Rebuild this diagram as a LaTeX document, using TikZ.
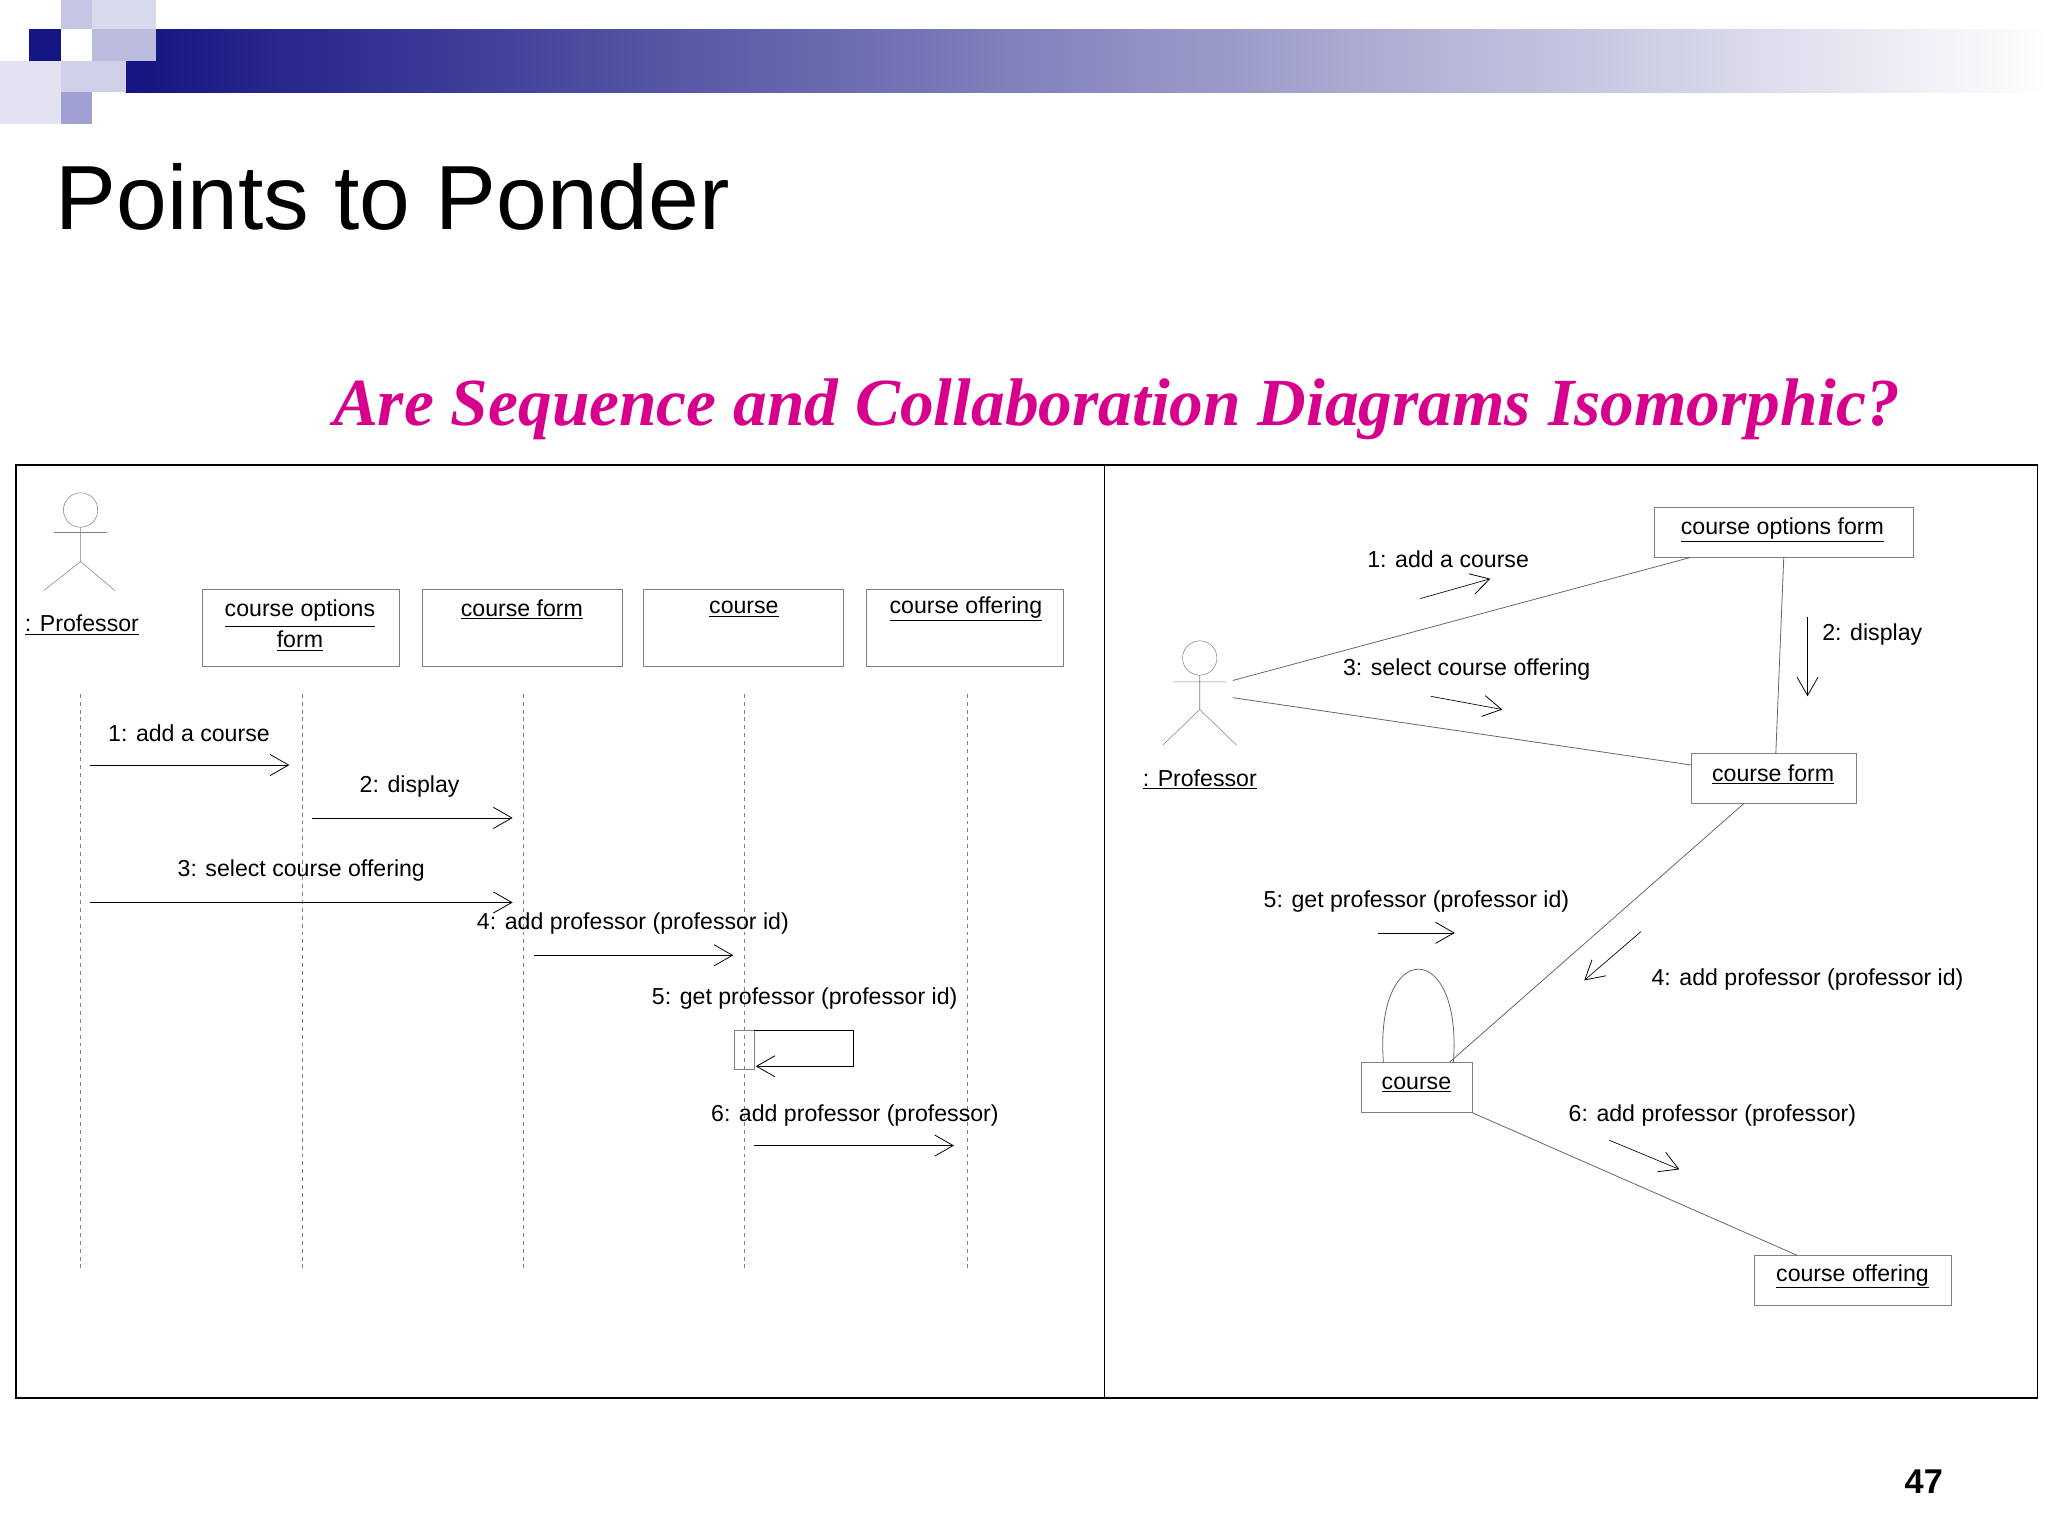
\documentclass[tikz,border=0pt]{standalone}
\usepackage{fontspec}
\setmainfont{Liberation Sans}
\newfontfamily\serifit{Liberation Serif}
\usetikzlibrary{arrows.meta}
\definecolor{navy}{RGB}{20,20,130}
\definecolor{lav}{RGB}{160,160,210}
\definecolor{mag}{RGB}{214,0,140}
\begin{document}
\begin{tikzpicture}[x=1pt,y=-1pt,
  lbl/.style={font=\fontsize{17.5}{19}\selectfont,inner sep=0pt},
  obj/.style={draw=gray,line width=0.6pt},
  msg/.style={line width=0.5pt,-{Straight Barb[length=14pt,width=16pt,line width=0.6pt]}},
  life/.style={gray,dashed,line width=0.5pt},
  lnk/.style={gray!80!black,line width=0.6pt}]
\useasboundingbox (0,0) rectangle (1550,1162.5);
% header
\shade[left color=navy,right color=white] (95,22) rectangle (1550,70);
\fill[navy] (22,22) rectangle (46,46);
\fill[lav!60] (46,0) rectangle (70,22);
\fill[lav!40] (70,0) rectangle (118,22);
\fill[lav!70] (70,22) rectangle (118,46);
\fill[lav!50] (46,46) rectangle (95,70);
\fill[lav] (46,70) rectangle (70,94);
\fill[lav!30] (0,46) rectangle (46,94);
\node[anchor=base west,inner sep=0pt,font=\fontsize{69}{76}\selectfont] (title) at (42,174) {Points to Ponder};
\node[anchor=base,inner sep=0pt,text=mag,font=\serifit\bfseries\itshape\fontsize{51}{60}\selectfont] (sub) at (845,322) {Are Sequence and Collaboration Diagrams Isomorphic?};
\draw[line width=1.2pt] (12,352) rectangle (1542,1058);
\draw[line width=1.2pt] (836,352) -- (836,1058);
% left actor
\draw[gray] (61,386) circle (13);
\draw[gray] (61,399) -- (61,425) (41,403) -- (81,403) (61,425) -- (33,447) (61,425) -- (87,447);
\node[lbl] (pl) at (62,473) {\underline{: Professor}};
% lifeline boxes
\draw[obj] (153,446) rectangle (302,504);
\node[lbl,align=center] (b1) at (227,473) {\underline{course options\strut}\\[2pt]\underline{form}};
\draw[obj] (320,446) rectangle (471,504);
\node[lbl] (b2) at (395,461) {\underline{course form}};
\draw[obj] (487,446) rectangle (638,504);
\node[lbl] (b3) at (563,461) {\underline{course}};
\draw[obj] (656,446) rectangle (805,504);
\node[lbl] (b4) at (731,461) {\underline{course offering}};
\foreach \x in {61,229,396,563,732} \draw[life] (\x,525) -- (\x,962);
\draw[msg] (68,579) -- (219,579); \node[lbl] (m1) at (143,555) {1: add a course};
\draw[msg] (236,619) -- (388,619); \node[lbl] (m2) at (310,595) {2: display};
\draw[msg] (68,683) -- (388,683); \node[lbl] (m3) at (228,659) {3: select course offering};
\draw[msg] (404,723) -- (555,723); \node[lbl] (m4) at (479,699) {4: add professor (professor id)};
\draw[obj] (556,780) rectangle (571,809);
\draw[msg] (571,780) -- (646,780) -- (646,807) -- (572,807);
\node[lbl] (m5) at (609,756) {5: get professor (professor id)};
\draw[msg] (571,867) -- (722,867); \node[lbl] (m6) at (647,844) {6: add professor (professor)};
% right actor
\draw[gray] (908,498) circle (13);
\draw[gray] (908,511) -- (908,537) (888,516) -- (928,516) (908,537) -- (880,564) (908,537) -- (936,564);
\node[lbl] (pr) at (908,590) {\underline{: Professor}};
\draw[obj] (1252,384) rectangle (1448,422); \node[lbl] (c1) at (1349,401) {\underline{course options form}};
\draw[obj] (1280,570) rectangle (1405,608); \node[lbl] (c2) at (1342,586) {\underline{course form}};
\draw[obj] (1030,804) rectangle (1114,842); \node[lbl] (c3) at (1072,821) {\underline{course}};
\draw[obj] (1328,950) rectangle (1477,988); \node[lbl] (c4) at (1402,966) {\underline{course offering}};
\draw[lnk] (933,515) -- (1279,422);
\draw[lnk] (933,528) -- (1280,579);
\draw[lnk] (1350,422) -- (1344,570);
\draw[lnk] (1320,608) -- (1097,804);
\draw[lnk] (1114,842) -- (1360,950);
\draw[lnk] (1047,804) .. controls (1040,710) and (1107,710) .. (1100,804);
\draw[msg] (1075,453) -- (1128,438); \node[lbl] (r1) at (1096,423) {1: add a course};
\draw[msg] (1083,527) -- (1137,537); \node[lbl] (r3) at (1110,507) {3: select course offering};
\draw[msg] (1368,467) -- (1368,527); \node[lbl] (r2) at (1417,480) {2: display};
\draw[msg] (1242,705) -- (1199,742); \node[lbl] (r4) at (1368,741) {4: add professor (professor id)};
\draw[msg] (1043,706) -- (1101,706); \node[lbl] (r5) at (1072,682) {5: get professor (professor id)};
\draw[msg] (1218,863) -- (1271,885); \node[lbl] (r6) at (1296,844) {6: add professor (professor)};
\node[font=\bfseries\fontsize{26}{30}\selectfont,inner sep=0pt] (pg) at (1456,1121) {47};
\end{tikzpicture}
\end{document}
